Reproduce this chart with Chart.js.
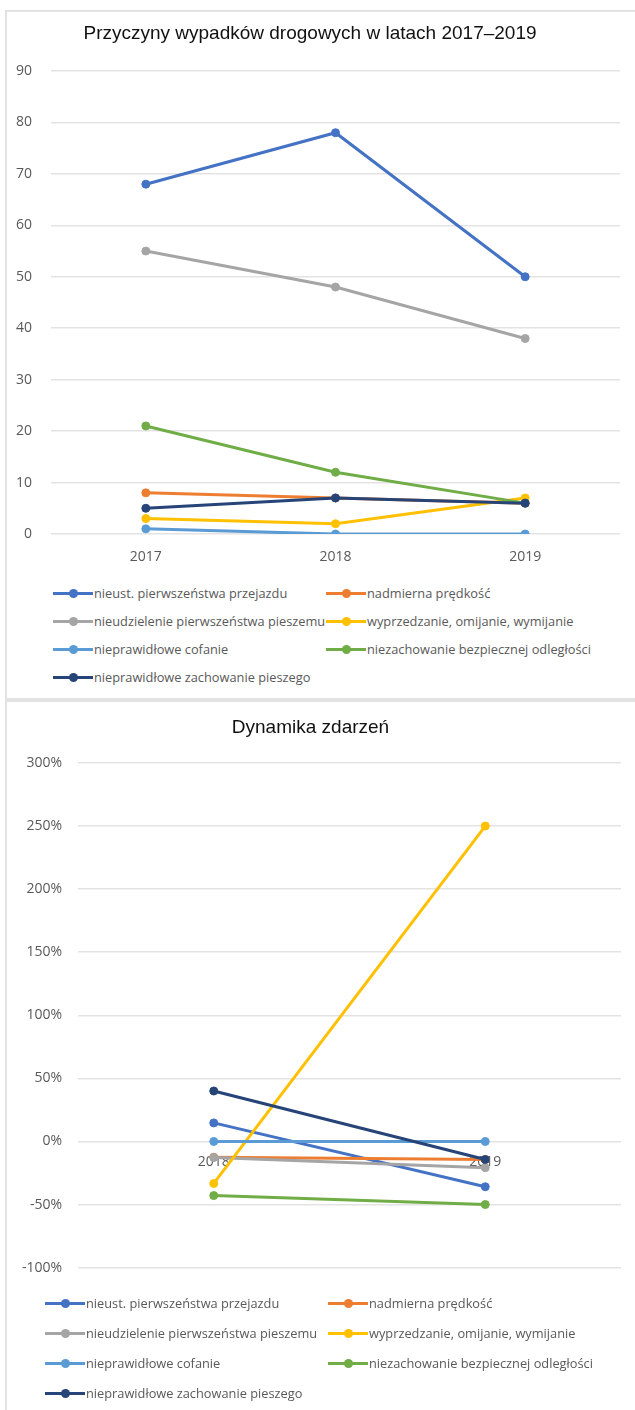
<!DOCTYPE html>
<html lang="pl">
<head>
<meta charset="utf-8">
<script src="https://cdn.jsdelivr.net/npm/chart.js@4"></script>
<style>
  body { margin: 0; background: #fff; width: 635px; height: 1410px; position: relative; overflow: hidden; font-family: "Open Sans", sans-serif; }
  .panel { position: absolute; left: 5px; width: 640px; border: 2px solid #e2e2e2; box-sizing: border-box; }
  .box { position: absolute; left: 0; width: 635px; }
  .legend { position: absolute; display: grid; grid-template-columns: 273px auto; font-size: 12.8px; color: #595959; }
  .legend .item { display: flex; align-items: center; white-space: nowrap; }
  .legend .mark { position: relative; width: 40px; height: 3px; margin-right: 1px; }
  .legend .mark span { position: absolute; left: 16px; top: -3px; width: 9px; height: 9px; border-radius: 50%; }
</style>
</head>
<body>
<div class="panel" style="top:10px; height:690px;"></div>
<div class="panel" style="top:700px; height:730px;"></div>

<div class="box" style="top:0; height:574px;"><canvas id="wypadkiChart"></canvas></div>
<div class="legend" id="legend1" style="left:53px; top:579px; grid-auto-rows:28px;"></div>

<div class="box" style="top:700px; height:592px;"><canvas id="dynamikaChart"></canvas></div>
<div class="legend" id="legend2" style="left:45px; top:1288px; grid-auto-rows:30px; grid-template-columns:283px auto;"></div>

<script>
const years = ["2017", "2018", "2019"];
const yearsDyn = ["2018", "2019"];

const seriesNames = [
    "nieust. pierwszeństwa przejazdu",
    "nadmierna prędkość",
    "nieudzielenie pierwszeństwa pieszemu",
    "wyprzedzanie, omijanie, wymijanie",
    "nieprawidłowe cofanie",
    "niezachowanie bezpiecznej odległości",
    "nieprawidłowe zachowanie pieszego"
];

// liczba zdarzeń
const przejazd = [68, 78, 50];
const predkosc = [8, 7, 6];
const pieszemu = [55, 48, 38];
const wyprzedzanie = [3, 2, 7];
const cofanie = [1, 0, 0];
const odleglosc = [21, 12, 6];
const pieszego = [5, 7, 6];

// dynamika r/r w %
const dynPrzejazd = [14.7, -35.9];
const dynPredkosc = [-12.5, -14.3];
const dynPieszemu = [-12.7, -20.8];
const dynWyprzedzanie = [-33.3, 250];
const dynCofanie = [0, 0];
const dynOdleglosc = [-42.9, -50];
const dynPieszego = [40, -14.3];

const ticks1 = { min: 0, max: 90, step: 10 };
const ticks2 = { min: -100, max: 300, step: 50 };

const colors = ["#4472C4", "#ED7D31", "#A5A5A5", "#FFC000", "#5B9BD5", "#70AD47", "#264478"];

const tickFont = { family: "Open Sans", size: 14 };
const titleFont = { family: "Liberation Sans", size: 19, weight: "normal" };

function makeDatasets(list) {
    return list.map((values, i) => ({
        label: seriesNames[i],
        data: values,
        borderColor: colors[i],
        backgroundColor: colors[i],
        pointBackgroundColor: colors[i],
        pointBorderColor: colors[i],
        borderWidth: 3,
        pointRadius: 4,
        pointBorderWidth: 1,
        order: list.length - i
    }));
}

function buildLegend(chart, id) {
    const box = document.getElementById(id);
    box.innerHTML = chart.data.datasets.map(ds => `
        <div class="item">
            <div class="mark" style="background:${ds.borderColor}"><span style="background:${ds.borderColor}"></span></div>
            <span>${ds.label}</span>
        </div>
    `).join('');
}

const wypadkiChart = new Chart(document.getElementById("wypadkiChart"), {
    type: "line",
    data: {
        labels: years,
        datasets: makeDatasets([przejazd, predkosc, pieszemu, wyprzedzanie, cofanie, odleglosc, pieszego])
    },
    options: {
        responsive: true,
        maintainAspectRatio: false,
        animation: false,
        layout: { padding: { right: 15 } },
        plugins: {
            legend: { display: false },
            tooltip: { enabled: false },
            title: {
                display: true,
                text: "Przyczyny wypadków drogowych w latach 2017–2019",
                color: "#111",
                font: titleFont,
                padding: { top: 22.4, bottom: 25.8 }
            }
        },
        scales: {
            x: {
                offset: true,
                grid: { display: false, drawTicks: false },
                border: { display: false },
                ticks: { color: "#595959", font: tickFont, padding: 15 },
                afterFit: s => { s.height = 40; }
            },
            y: {
                min: ticks1.min,
                max: ticks1.max,
                grid: { color: "#e3e3e3", lineWidth: 1.5, drawTicks: false },
                border: { display: false },
                ticks: { stepSize: ticks1.step, color: "#595959", font: tickFont, padding: 19 },
                afterFit: s => { s.width = 51; }
            }
        }
    }
});
buildLegend(wypadkiChart, "legend1");

const dynamikaChart = new Chart(document.getElementById("dynamikaChart"), {
    type: "line",
    data: {
        labels: yearsDyn,
        datasets: makeDatasets([dynPrzejazd, dynPredkosc, dynPieszemu, dynWyprzedzanie, dynCofanie, dynOdleglosc, dynPieszego])
    },
    options: {
        responsive: true,
        maintainAspectRatio: false,
        animation: false,
        layout: { padding: { right: 14, bottom: 10 } },
        plugins: {
            legend: { display: false },
            tooltip: { enabled: false },
            title: {
                display: true,
                text: "Dynamika zdarzeń",
                color: "#111",
                font: titleFont,
                padding: { top: 16.6, bottom: 23.6 }
            }
        },
        scales: {
            x: {
                position: { y: 0 },
                offset: true,
                grid: { display: false, drawTicks: false },
                border: { display: false },
                ticks: { color: "#595959", font: tickFont, padding: 12 }
            },
            y: {
                min: ticks2.min,
                max: ticks2.max,
                grid: { color: "#e3e3e3", lineWidth: 1.5, drawTicks: false },
                border: { display: false },
                ticks: { stepSize: ticks2.step, color: "#595959", font: tickFont, padding: 16, callback: v => v + "%" },
                afterFit: s => { s.width = 78; }
            }
        }
    }
});
buildLegend(dynamikaChart, "legend2");
</script>
</body>
</html>
